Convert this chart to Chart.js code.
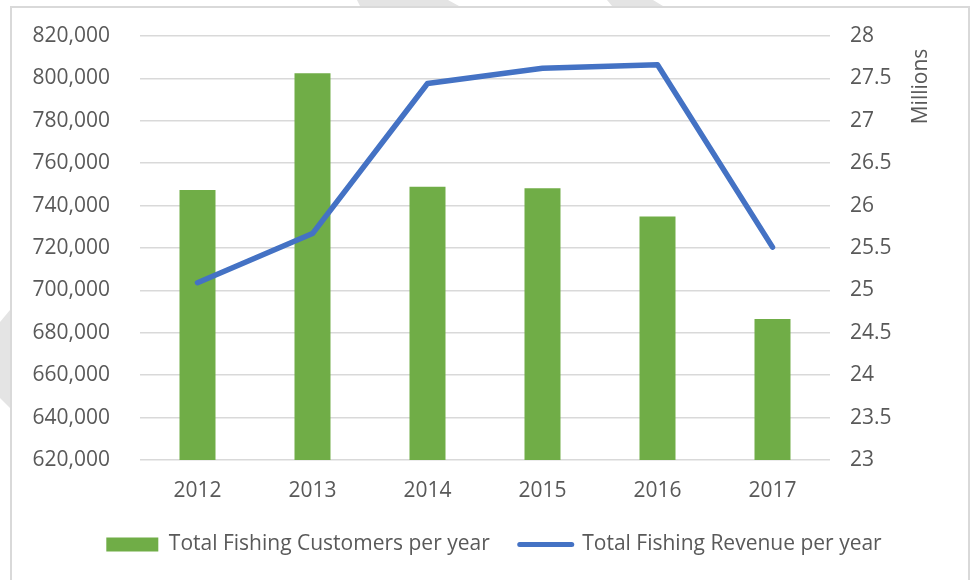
<!DOCTYPE html>
<html>
<head>
<meta charset="utf-8">
<script src="https://cdn.jsdelivr.net/npm/chart.js@4.4.1/dist/chart.umd.min.js"></script>
<style>
  html, body { margin: 0; padding: 0; background: #ffffff; }
  #wrap { position: relative; width: 972px; height: 580px; overflow: hidden; }
  .frame { position: absolute; left: 10px; top: 6px; width: 960px; height: 620px; box-sizing: border-box; border: 2px solid #D9D9D9; }
  .wm { position: absolute; background: #E4E4E4; }
  #c { position: absolute; left: 0; top: 0; }
</style>
</head>
<body>
<div id="wrap">
  <div class="wm" style="left:355px;top:0;width:104px;height:6px;clip-path:polygon(2px 0,93px 0,104px 6px,5px 6px);"></div>
  <div class="wm" style="left:605px;top:0;width:58px;height:6px;clip-path:polygon(2px 0,48px 0,58px 6px,7px 6px);"></div>
  <div class="wm" style="left:0;top:310px;width:10px;height:98px;clip-path:polygon(10px 0,10px 98px,0 88px,0 12px);"></div>
  <div class="frame"></div>
  <canvas id="c" width="972" height="580"></canvas>
</div>
<script>
// ---- data ----
const years = ['2012', '2013', '2014', '2015', '2016', '2017'];
const customers = [747400, 802400, 748900, 748200, 734800, 686500];
const revenue = [25090000, 25670000, 27440000, 27620000, 27660000, 25510000];
const customerTicks = { min: 620000, max: 820000, step: 20000 };
const revenueTicks = { min: 23000000, max: 28000000, step: 500000 };
const seriesNames = ['Total Fishing Customers per year', 'Total Fishing Revenue per year'];
const revenueUnitLabel = 'Millions';

const TEXT = '#595959';
const FONT = "'Open Sans', 'Liberation Sans', sans-serif";
const GREEN = '#70AD47';
const BLUE = '#4472C4';

const unitTitle = {
  id: 'unitTitle',
  afterDraw(chart) {
    const { ctx, chartArea } = chart;
    ctx.save();
    ctx.fillStyle = TEXT;
    ctx.font = "21px " + FONT;
    ctx.textAlign = 'center';
    ctx.textBaseline = 'middle';
    ctx.translate(chartArea.right + 91.5, chartArea.top + 50.5);
    ctx.rotate(-Math.PI / 2);
    ctx.fillText(revenueUnitLabel, 0, 0);
    ctx.restore();
  }
};

new Chart(document.getElementById('c'), {
  data: {
    labels: years,
    datasets: [
      {
        type: 'bar',
        label: seriesNames[0],
        data: customers,
        backgroundColor: GREEN,
        borderWidth: 0,
        barPercentage: 0.313,
        categoryPercentage: 1,
        yAxisID: 'y',
        order: 2
      },
      {
        type: 'line',
        label: seriesNames[1],
        data: revenue,
        borderColor: BLUE,
        backgroundColor: BLUE,
        borderWidth: 5.5,
        pointRadius: 0,
        pointHoverRadius: 0,
        tension: 0,
        borderJoinStyle: 'round',
        borderCapStyle: 'round',
        yAxisID: 'y1',
        order: 1
      }
    ]
  },
  options: {
    responsive: false,
    animation: false,
    layout: { padding: { left: 16, right: 0, top: 36, bottom: 15 } },
    plugins: {
      tooltip: { enabled: false },
      legend: {
        position: 'bottom',
        labels: {
          color: TEXT,
          font: { family: FONT, size: 21 },
          usePointStyle: true,
          pointStyleWidth: 52,
          boxHeight: 14,
          padding: 30,
          generateLabels(chart) {
            return chart.data.datasets.map((ds, i) => ({
              text: ds.label,
              datasetIndex: i,
              fillStyle: ds.type === 'bar' ? ds.backgroundColor : 'rgba(0,0,0,0)',
              strokeStyle: ds.type === 'bar' ? ds.backgroundColor : ds.borderColor,
              lineWidth: ds.type === 'bar' ? 0 : 5,
              lineCap: 'round',
              pointStyle: ds.type === 'bar' ? 'rect' : 'line',
              fontColor: TEXT,
              hidden: false
            }));
          }
        }
      }
    },
    scales: {
      x: {
        grid: { display: false, drawTicks: false },
        border: { display: false },
        ticks: { color: TEXT, font: { family: FONT, size: 21 }, padding: 18 },
        afterFit(s) { s.height = 44; s.paddingLeft = 0; s.paddingRight = 0; }
      },
      y: {
        position: 'left',
        min: customerTicks.min,
        max: customerTicks.max,
        grid: { color: '#D9D9D9', lineWidth: 1.5, drawTicks: false },
        border: { display: false },
        ticks: {
          stepSize: customerTicks.step,
          color: TEXT,
          font: { family: FONT, size: 21 },
          padding: 30,
          callback: v => v.toLocaleString('en-US')
        },
        afterFit(s) { s.width = 124; s.paddingTop = 0; s.paddingBottom = 0; }
      },
      y1: {
        position: 'right',
        min: revenueTicks.min,
        max: revenueTicks.max,
        grid: { display: false, drawOnChartArea: false, drawTicks: false },
        border: { display: false },
        ticks: {
          stepSize: revenueTicks.step,
          color: TEXT,
          font: { family: FONT, size: 21 },
          padding: 20,
          callback: v => String(Number((v / 1e6).toFixed(1)))
        },
        afterFit(s) { s.width = 142; s.paddingTop = 0; s.paddingBottom = 0; }
      }
    }
  },
  plugins: [unitTitle]
});
</script>
</body>
</html>
